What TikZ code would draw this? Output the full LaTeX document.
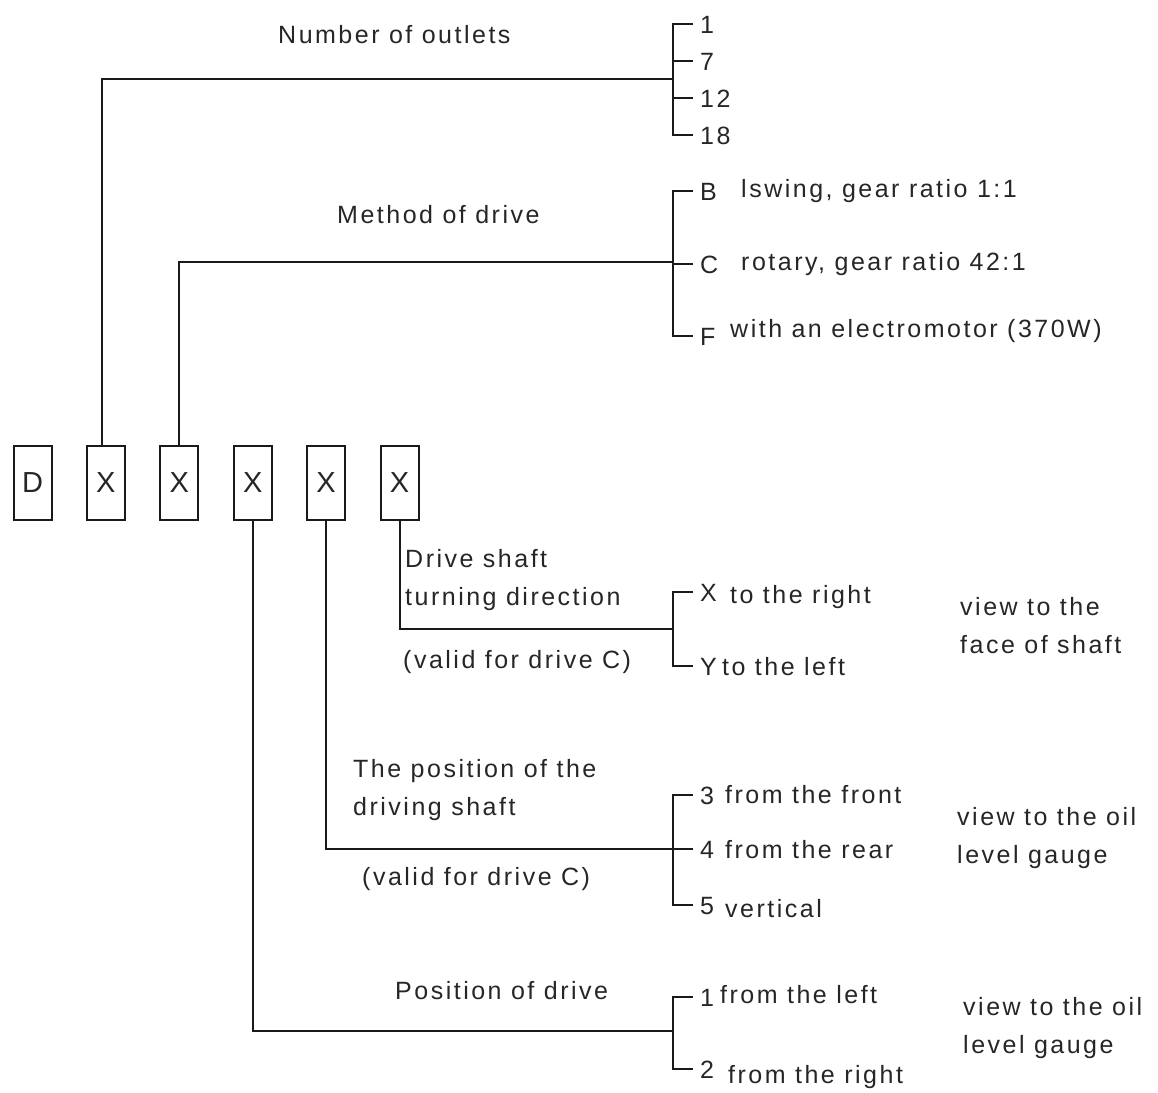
\documentclass[tikz,border=0pt]{standalone}
\usepackage{fontspec}
\setmainfont{Liberation Sans}[LetterSpace=10]
\newfontfamily\boxfont{Liberation Sans}
\definecolor{ink}{HTML}{262626}
\definecolor{wirecol}{HTML}{1A1A1A}
\tikzset{
  slot/.style={draw=wirecol,line width=2pt,minimum width=38pt,minimum height=74pt,inner sep=0pt,text=ink,font=\boxfont\fontsize{29}{29}\selectfont},
  txt/.style={anchor=base west,inner sep=0pt,text=ink,font=\fontsize{25}{30}\selectfont},
  code/.style={anchor=west,inner xsep=7pt,inner ysep=0pt,text height=18pt,text depth=0pt,text=ink,font=\fontsize{25}{30}\selectfont},
  lead/.style={draw=wirecol,line width=2pt}
}
\begin{document}
\begin{tikzpicture}[x=1pt,y=-1pt]
\useasboundingbox (0,0) rectangle (1158,1092);
% type code boxes
\foreach \t [count=\i] in {D,X,X,X,X,X}{\node[slot] (b\i) at ({32.5+(\i-1)*73.4},483) {\t};}
% joints on the brackets
\coordinate (j1) at (673,79);\coordinate (j2) at (673,262);\coordinate (j3) at (673,629);\coordinate (j4) at (673,849);\coordinate (j5) at (673,1031);
\draw[lead] ([xshift=-4pt]b2.north) |- (j1);
\draw[lead] (b3.north) |- (j2);
\draw[lead] (b6.south) |- (j3);
\draw[lead] (b5.south) |- (j4);
\draw[lead] (b4.south) |- (j5);
% number of outlets
\node[txt] (outl) at (278,43) {Number of outlets};
\foreach \c/\y [count=\k] in {1/24,7/61,12/98,18/135}{\node[code] (n\k) at (693,\y) {\c};}
\draw[lead] (n1.west) -| (n4.west -| j1) -- (n4.west);
\foreach \k in {2,3}{\draw[lead] (n\k.west) -- (n\k.west -| j1);}
% method of drive
\node[txt] (meth) at (337,223) {Method of drive};
\foreach \c/\y [count=\k] in {B/191,C/264,F/336}{\node[code] (d\k) at (693,\y) {\c};}
\draw[lead] (d1.west) -| (d3.west -| j2) -- (d3.west);
\draw[lead] (d2.west) -- (d2.west -| j2);
\node[txt] (dB) at (741,197) {lswing, gear ratio 1:1};
\node[txt] (dC) at (741,270) {rotary, gear ratio 42:1};
\node[txt] (dF) at (730,337) {with an electromotor (370W)};
% turning direction
\node[txt] (turn1) at (405,567) {Drive shaft};
\node[txt] (turn2) at (405,605) {turning direction};
\node[txt] (turn3) at (403,668) {(valid for drive C)};
\foreach \c/\y [count=\k] in {X/592,Y/666}{\node[code] (t\k) at (693,\y) {\c};}
\draw[lead] (t1.west) -| (t2.west -| j3) -- (t2.west);
\node[txt] (tX) at (730,603) {to the right};
\node[txt] (tY) at (722,675) {to the left};
\node[txt] (view1) at (960,615) {view to the};
\node[txt] (view1b) at (960,653) {face of shaft};
% position of the driving shaft
\node[txt] (shaft1) at (353,777) {The position of the};
\node[txt] (shaft2) at (353,815) {driving shaft};
\node[txt] (shaft3) at (362,885) {(valid for drive C)};
\foreach \c/\y [count=\k] in {3/795,4/849,5/905}{\node[code] (s\k) at (693,\y) {\c};}
\draw[lead] (s1.west) -| (s3.west -| j4) -- (s3.west);
\draw[lead] (s2.west) -- (s2.west -| j4);
\node[txt] (s3d) at (725,803) {from the front};
\node[txt] (s4d) at (725,858) {from the rear};
\node[txt] (s5d) at (725,917) {vertical};
\node[txt] (view2) at (957,825) {view to the oil};
\node[txt] (view2b) at (957,863) {level gauge};
% position of drive
\node[txt] (side) at (395,999) {Position of drive};
\foreach \c/\y [count=\k] in {1/997,2/1069}{\node[code] (p\k) at (693,\y) {\c};}
\draw[lead] (p1.west) -| (p2.west -| j5) -- (p2.west);
\node[txt] (p1d) at (720,1003) {from the left};
\node[txt] (p2d) at (728,1083) {from the right};
\node[txt] (view3) at (963,1015) {view to the oil};
\node[txt] (view3b) at (963,1053) {level gauge};
\end{tikzpicture}
\end{document}
